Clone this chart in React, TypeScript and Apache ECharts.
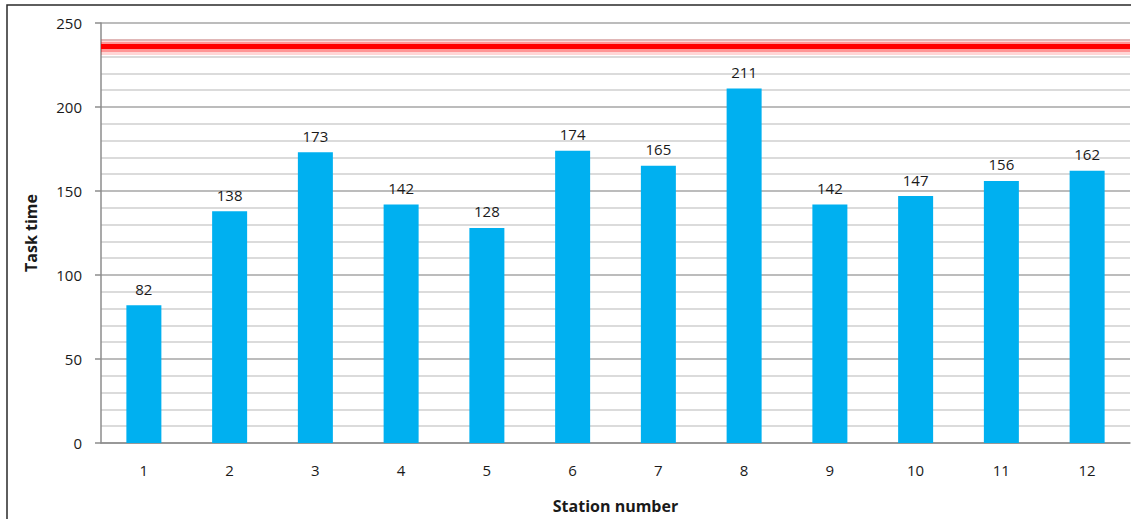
import React, { useEffect, useRef } from "react";
import * as echarts from "echarts";

const stations = ["1", "2", "3", "4", "5", "6", "7", "8", "9", "10", "11", "12"];
const taskTimes = [82, 138, 173, 142, 128, 174, 165, 211, 142, 147, 156, 162];
const cycleTime = 236;

const FONT = "'Open Sans', 'Noto Sans', sans-serif";

export default function App() {
  const ref = useRef<HTMLDivElement>(null);

  useEffect(() => {
    if (!ref.current) return;
    const chart = echarts.init(ref.current, null, { renderer: "svg" });
    chart.setOption({
      animation: false,
      backgroundColor: "#ffffff",
      textStyle: { fontFamily: FONT },
      grid: { left: 101, top: 23, width: 1029, height: 428, containLabel: false },
      graphic: [
        {
          type: "rect",
          shape: { x: 7, y: 5, width: 1200, height: 600 },
          style: { fill: "none", stroke: "#2a2a2a", lineWidth: 1.5 },
          silent: true,
          z: 100,
        },
      ],
      xAxis: {
        type: "category",
        data: stations,
        name: "Station number",
        nameLocation: "middle",
        nameGap: 55,
        nameTextStyle: { fontFamily: FONT, fontSize: 16, fontWeight: "bold", color: "#1a1a1a" },
        axisLine: { show: true, lineStyle: { color: "#8c8c8c", width: 1.5 } },
        axisTick: { show: false },
        axisLabel: { fontFamily: FONT, fontSize: 15, color: "#1a1a1a", margin: 19 },
      },
      yAxis: {
        type: "value",
        min: 0,
        max: 250,
        interval: 50,
        name: "Task time",
        nameLocation: "middle",
        nameGap: 62,
        nameTextStyle: { fontFamily: FONT, fontSize: 16, fontWeight: "bold", color: "#1a1a1a" },
        axisLine: { show: true, lineStyle: { color: "#8c8c8c", width: 1.5 } },
        axisTick: { show: true, length: 6, lineStyle: { color: "#8c8c8c", width: 1.5 } },
        axisLabel: { fontFamily: FONT, fontSize: 15, color: "#1a1a1a", margin: 19 },
        splitLine: { show: true, lineStyle: { color: "#a6a6a6", width: 1.5 } },
        minorTick: { show: false, splitNumber: 5 },
        minorSplitLine: { show: true, lineStyle: { color: "#cfcfcf", width: 1.5 } },
      },
      series: [
        {
          type: "bar",
          data: taskTimes,
          barWidth: 35,
          itemStyle: { color: "#00b0f0" },
          label: {
            show: true,
            position: "top",
            distance: 9,
            fontFamily: FONT,
            fontSize: 15,
            color: "#1a1a1a",
          },
        },
        {
          // soft halo behind the cycle-time line
          type: "line",
          data: [],
          markLine: {
            silent: true,
            symbol: ["none", "none"],
            label: { show: false },
            lineStyle: { color: "rgba(255,0,0,0.16)", type: "solid", width: 16 },
            data: [{ yAxis: cycleTime }],
          },
        },
        {
          type: "line",
          data: [],
          markLine: {
            silent: true,
            symbol: ["none", "none"],
            label: { show: false },
            lineStyle: { color: "rgba(255,0,0,0.3)", type: "solid", width: 10 },
            data: [{ yAxis: cycleTime }],
          },
        },
        {
          type: "line",
          data: [],
          markLine: {
            silent: true,
            symbol: ["none", "none"],
            label: { show: false },
            lineStyle: { color: "#ff0000", type: "solid", width: 5 },
            data: [{ yAxis: cycleTime }],
          },
        },
      ],
    });
    return () => chart.dispose();
  }, []);

  return (
    <div
      ref={ref}
      style={{ position: "fixed", left: 0, top: 0, width: 1131, height: 519, background: "#fff" }}
    />
  );
}
